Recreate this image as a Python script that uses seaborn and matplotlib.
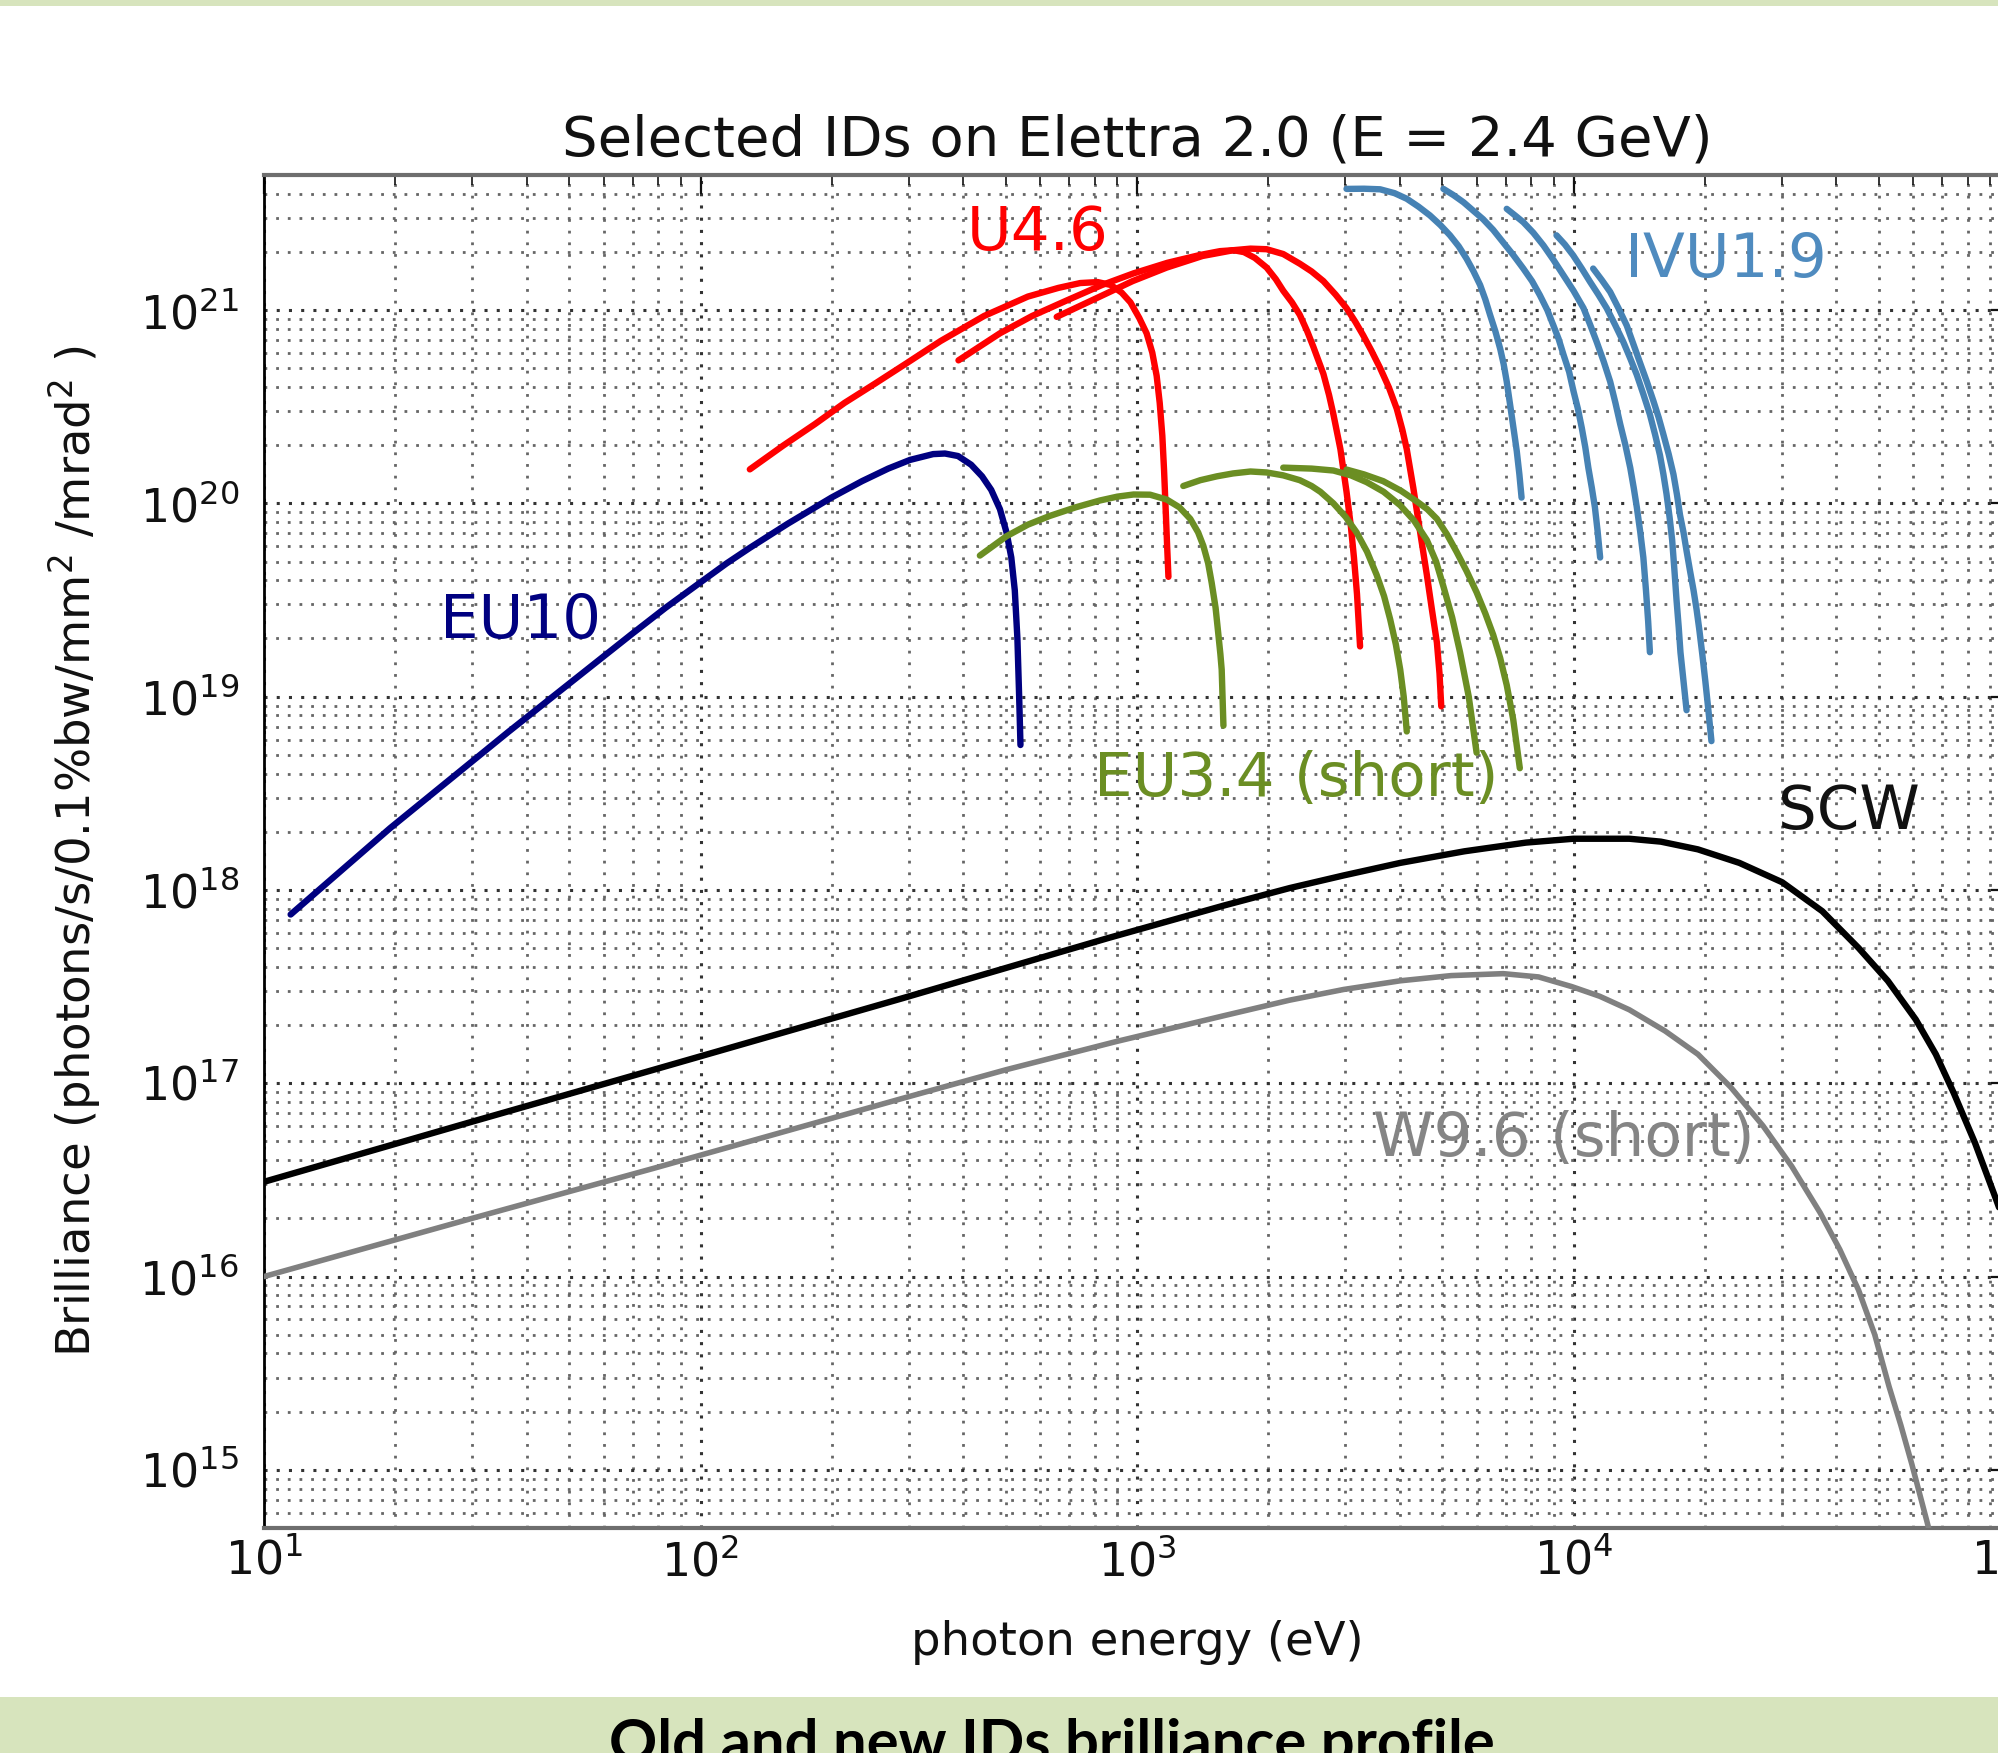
import numpy as np
import pandas as pd
import matplotlib
matplotlib.use("Agg")
import matplotlib.pyplot as plt
from matplotlib.patches import Rectangle
from matplotlib.ticker import LogLocator, NullFormatter
import seaborn as sns

# ------------- data, stored as log10 values -------------
# log10(photon energy / eV) and log10(brilliance)
eu10_logE = [1.061, 1.289, 1.561, 1.842, 1.92, 1.999, 2.06, 2.113, 2.20, 2.30, 2.37, 2.43, 2.48, 2.533, 2.56,
             2.59, 2.62, 2.645, 2.666, 2.686, 2.701, 2.712, 2.72, 2.726, 2.730, 2.733]
eu10_logB = [17.873, 18.32, 18.82, 19.323, 19.46, 19.59, 19.69, 19.77, 19.895, 20.03, 20.115, 20.18, 20.225,
             20.255, 20.258, 20.245, 20.20, 20.14, 20.07, 19.97, 19.85, 19.72, 19.55, 19.30, 19.0, 18.75]

u46_h1_logE = [2.113, 2.19, 2.262, 2.33, 2.40, 2.472, 2.55, 2.65, 2.75, 2.82, 2.87, 2.91, 2.94, 2.965, 2.985,
               3.005, 3.022, 3.035, 3.045, 3.052, 3.058, 3.062, 3.066, 3.069, 3.072]
u46_h1_logB = [20.176, 20.30, 20.41, 20.52, 20.62, 20.725, 20.84, 20.97, 21.07, 21.115, 21.14, 21.145, 21.13,
               21.09, 21.04, 20.96, 20.88, 20.78, 20.66, 20.52, 20.35, 20.17, 19.95, 19.78, 19.62]
u46_h3_logE = [2.591, 2.686, 2.76, 2.839, 2.92, 2.992, 3.07, 3.144, 3.19, 3.221, 3.245, 3.27, 3.297, 3.318,
               3.335, 3.355, 3.373, 3.39, 3.404, 3.427, 3.44, 3.45, 3.466, 3.48, 3.49, 3.497, 3.504, 3.511]
u46_h3_logB = [20.74, 20.88, 20.97, 21.05, 21.13, 21.19, 21.245, 21.285, 21.305, 21.31, 21.30, 21.27, 21.22,
               21.16, 21.10, 21.04, 20.975, 20.89, 20.81, 20.67, 20.56, 20.46, 20.28, 20.06, 19.88, 19.72,
               19.53, 19.26]
u46_h5_logE = [2.816, 2.915, 2.99, 3.068, 3.15, 3.221, 3.26, 3.297, 3.335, 3.373, 3.40, 3.427, 3.455, 3.48,
               3.50, 3.518, 3.537, 3.557, 3.577, 3.595, 3.608, 3.618, 3.633, 3.648, 3.664, 3.675, 3.687,
               3.693, 3.697]
u46_h5_logB = [20.965, 21.07, 21.15, 21.22, 21.28, 21.31, 21.318, 21.315, 21.29, 21.24, 21.20, 21.15, 21.08,
               21.01, 20.94, 20.87, 20.79, 20.70, 20.60, 20.49, 20.38, 20.28, 20.08, 19.86, 19.63, 19.46,
               19.28, 19.12, 18.95]

eu34_h1_logE = [2.640, 2.701, 2.75, 2.80, 2.86, 2.915, 2.955, 2.992, 3.03, 3.068, 3.097, 3.122, 3.14, 3.152,
                3.163, 3.171, 3.18, 3.186, 3.191, 3.194, 3.198]
eu34_h1_logB = [19.73, 19.83, 19.89, 19.935, 19.98, 20.015, 20.035, 20.046, 20.045, 20.02, 19.98, 19.92,
                19.85, 19.78, 19.69, 19.59, 19.46, 19.33, 19.22, 19.14, 18.85]
eu34_h3_logE = [3.106, 3.145, 3.183, 3.22, 3.26, 3.297, 3.335, 3.373, 3.40, 3.42, 3.45, 3.478, 3.503, 3.527,
                3.549, 3.566, 3.58, 3.593, 3.603, 3.611, 3.618]
eu34_h3_logB = [20.09, 20.12, 20.14, 20.155, 20.165, 20.16, 20.145, 20.12, 20.09, 20.06, 20.0, 19.93, 19.85,
                19.75, 19.63, 19.52, 19.40, 19.27, 19.14, 19.0, 18.82]
eu34_h5_logE = [3.335, 3.40, 3.45, 3.49, 3.526, 3.565, 3.603, 3.635, 3.664, 3.685, 3.702, 3.722, 3.74,
                3.76, 3.778]
eu34_h5_logB = [20.185, 20.18, 20.17, 20.145, 20.11, 20.06, 19.99, 19.91, 19.81, 19.70, 19.57, 19.41, 19.23,
                19.0, 18.71]
eu34_h7_logE = [3.48, 3.52, 3.564, 3.605, 3.641, 3.665, 3.687, 3.71, 3.732, 3.755, 3.778, 3.798, 3.816,
                3.832, 3.847, 3.862, 3.877]
eu34_h7_logB = [20.175, 20.15, 20.115, 20.065, 20.01, 19.97, 19.92, 19.84, 19.75, 19.65, 19.54, 19.43, 19.32,
                19.20, 19.06, 18.88, 18.63]

ivu_h1_logE = [3.48, 3.52, 3.557, 3.59, 3.618, 3.645, 3.671, 3.695, 3.717, 3.737, 3.755, 3.771, 3.786, 3.798,
               3.809, 3.821, 3.832, 3.840, 3.847, 3.858, 3.865, 3.870, 3.876, 3.881]
ivu_h1_logB = [21.627, 21.628, 21.625, 21.605, 21.576, 21.535, 21.49, 21.44, 21.387, 21.33, 21.266, 21.20,
               21.13, 21.055, 20.974, 20.89, 20.80, 20.72, 20.63, 20.46, 20.35, 20.27, 20.15, 20.03]
ivu_h3_logE = [3.702, 3.725, 3.748, 3.77, 3.793, 3.816, 3.839, 3.862, 3.885, 3.905, 3.923, 3.94, 3.954, 3.966,
               3.977, 3.99, 4.0, 4.01, 4.019, 4.027, 4.034, 4.042, 4.049, 4.055, 4.061]
ivu_h3_logB = [21.627, 21.595, 21.558, 21.515, 21.47, 21.415, 21.35, 21.285, 21.215, 21.15, 21.077, 21.0,
               20.92, 20.85, 20.77, 20.68, 20.58, 20.49, 20.39, 20.29, 20.184, 20.08, 19.98, 19.86, 19.72]
ivu_h5_logE = [3.847, 3.866, 3.885, 3.908, 3.931, 3.954, 3.977, 4.0, 4.023, 4.038, 4.053, 4.069, 4.084, 4.096,
               4.107, 4.119, 4.13, 4.138, 4.145, 4.153, 4.16, 4.166, 4.171, 4.175]
ivu_h5_logB = [21.524, 21.49, 21.455, 21.40, 21.335, 21.26, 21.18, 21.10, 21.01, 20.925, 20.836, 20.735,
               20.63, 20.52, 20.41, 20.30, 20.184, 20.08, 19.98, 19.85, 19.72, 19.55, 19.39, 19.23]
ivu_h7_logE = [3.961, 3.98, 3.999, 4.019, 4.038, 4.057, 4.076, 4.095, 4.114, 4.13, 4.145, 4.16, 4.175, 4.187,
               4.198, 4.206, 4.213, 4.22, 4.226, 4.231, 4.236, 4.241, 4.245, 4.252, 4.259]
ivu_h7_logB = [21.387, 21.34, 21.284, 21.215, 21.146, 21.08, 21.01, 20.925, 20.836, 20.75, 20.665, 20.565,
               20.46, 20.355, 20.25, 20.15, 20.05, 19.93, 19.81, 19.66, 19.5, 19.36, 19.23, 19.08, 18.93]
ivu_h9_logE = [4.045, 4.065, 4.084, 4.103, 4.122, 4.137, 4.152, 4.168, 4.183, 4.195, 4.206, 4.218, 4.229,
               4.237, 4.244, 4.252, 4.259, 4.267, 4.275, 4.282, 4.288, 4.295, 4.302, 4.309, 4.316]
ivu_h9_logB = [21.215, 21.155, 21.094, 21.01, 20.92, 20.825, 20.73, 20.63, 20.53, 20.445, 20.356, 20.255,
               20.15, 20.045, 19.94, 19.85, 19.754, 19.65, 19.55, 19.45, 19.35, 19.22, 19.08, 18.93, 18.77]

scw_logE = [1.0, 1.475, 1.893, 2.463, 2.932, 3.2, 3.35, 3.473, 3.603, 3.75, 3.891, 4.0, 4.128, 4.20, 4.285,
            4.38, 4.478, 4.57, 4.653, 4.72, 4.784, 4.83, 4.871, 4.92, 4.968, 5.0]
scw_logB = [16.49, 16.80, 17.07, 17.44, 17.75, 17.92, 18.01, 18.075, 18.14, 18.20, 18.245, 18.265, 18.265,
            18.25, 18.21, 18.14, 18.04, 17.89, 17.70, 17.53, 17.33, 17.15, 16.95, 16.69, 16.40, 16.20]

w96_logE = [1.0, 1.475, 1.893, 2.46, 2.7, 2.951, 3.2, 3.35, 3.473, 3.603, 3.72, 3.839, 3.92, 3.996, 4.06,
            4.128, 4.21, 4.285, 4.36, 4.434, 4.50, 4.565, 4.61, 4.653, 4.69, 4.723, 4.75, 4.775, 4.81, 4.82]
w96_logB = [16.0, 16.30, 16.56, 16.92, 17.07, 17.215, 17.35, 17.43, 17.485, 17.53, 17.557, 17.567, 17.55,
            17.50, 17.45, 17.38, 17.27, 17.15, 16.98, 16.78, 16.57, 16.33, 16.14, 15.93, 15.70, 15.43, 15.23,
            15.03, 14.73, 14.64]

series = [
    ("EU10", eu10_logE, eu10_logB, "#000080"),
    ("U4.6 h1", u46_h1_logE, u46_h1_logB, "#ff0000"),
    ("U4.6 h3", u46_h3_logE, u46_h3_logB, "#ff0000"),
    ("U4.6 h5", u46_h5_logE, u46_h5_logB, "#ff0000"),
    ("EU3.4 h1", eu34_h1_logE, eu34_h1_logB, "#6b8e23"),
    ("EU3.4 h3", eu34_h3_logE, eu34_h3_logB, "#6b8e23"),
    ("EU3.4 h5", eu34_h5_logE, eu34_h5_logB, "#6b8e23"),
    ("EU3.4 h7", eu34_h7_logE, eu34_h7_logB, "#6b8e23"),
    ("IVU1.9 h1", ivu_h1_logE, ivu_h1_logB, "#4682b4"),
    ("IVU1.9 h3", ivu_h3_logE, ivu_h3_logB, "#4682b4"),
    ("IVU1.9 h5", ivu_h5_logE, ivu_h5_logB, "#4682b4"),
    ("IVU1.9 h7", ivu_h7_logE, ivu_h7_logB, "#4682b4"),
    ("IVU1.9 h9", ivu_h9_logE, ivu_h9_logB, "#4682b4"),
    ("SCW", scw_logE, scw_logB, "#000000"),
    ("W9.6", w96_logE, w96_logB, "#808080"),
]

frames = []
for name, le, lb, c in series:
    frames.append(pd.DataFrame({"energy": np.power(10.0, le),
                                "brilliance": np.power(10.0, lb),
                                "curve": name}))
df = pd.concat(frames, ignore_index=True)

# ---------------- style ----------------
sns.set_style("white")
plt.rcParams["font.family"] = ["DejaVu Sans"]
plt.rcParams["mathtext.fontset"] = "dejavusans"
plt.rcParams["text.color"] = "#111111"
plt.rcParams["axes.labelcolor"] = "#111111"

fig = plt.figure(figsize=(19.99, 17.53), dpi=100)
fig.patch.set_facecolor("white")
ax = fig.add_axes([0.13207, 0.12835, 0.87344, 0.77182])

for name, le, lb, c in series:
    sub = df[df["curve"] == name]
    sns.lineplot(data=sub, x="energy", y="brilliance", color=c,
                 lw=4.6 if name != "W9.6" else 4.0,
                 sort=False, estimator=None, ax=ax, zorder=3, legend=False)

ax.set_xscale("log")
ax.set_yscale("log")
ax.set_xlim(10, 1e5)
ax.set_ylim(5e14, 5e21)

ax.xaxis.set_major_locator(LogLocator(base=10, numticks=20))
ax.yaxis.set_major_locator(LogLocator(base=10, numticks=20))
ax.xaxis.set_minor_locator(LogLocator(base=10, subs=np.arange(2, 10), numticks=200))
ax.yaxis.set_minor_locator(LogLocator(base=10, subs=np.arange(2, 10), numticks=200))
ax.xaxis.set_minor_formatter(NullFormatter())
ax.yaxis.set_minor_formatter(NullFormatter())

ax.grid(True, which="major", color="#333333", lw=2.2, ls=(0, (1, 3.0)), zorder=1)
ax.grid(True, which="minor", color="#666666", lw=2.0, ls=(0, (1, 3.2)), zorder=1)

ax.tick_params(which="both", direction="in", top=True, right=True, colors="#111111")
ax.tick_params(which="major", length=14, width=1.6)
ax.tick_params(which="minor", length=7, width=1.2)
ax.tick_params(axis="x", which="major", labelsize=33, pad=8)
ax.tick_params(axis="y", which="major", labelsize=33, pad=18)

ax.spines["left"].set_color("black")
ax.spines["left"].set_linewidth(2.0)
for s in ("top", "bottom"):
    ax.spines[s].set_color("#6e6e6e")
    ax.spines[s].set_linewidth(3.0)

ax.set_xlabel("photon energy (eV)", fontsize=33.5)
ax.set_ylabel("Brilliance (photons/s/0.1%bw/mm$^2$ /mrad$^2$ )", fontsize=33.5)
ax.xaxis.set_label_coords(0.5, -0.068)
ax.yaxis.set_label_coords(-0.092, 0.5)
ax.set_title("Selected IDs on Elettra 2.0 (E = 2.4 GeV)", fontsize=40.3, pad=14)

lab = dict(fontsize=44, ha="left", va="baseline", zorder=4)
ax.text(407, 2.04e21, "U4.6", color="#ff0000", **lab)
ax.text(13150, 1.49e21, "IVU1.9", color="#4f8bbf", **lab)
ax.text(25.3, 2.01e19, "EU10", color="#000080", **lab)
ax.text(798, 3.05e18, "EU3.4 (short)", color="#6b8e23", **lab)
ax.text(29440, 2.07e18, "SCW", color="#111111", **lab)
ax.text(3467, 4.19e16, "W9.6 (short)", color="#858585", **lab)

# page bands of the original slide
fig.add_artist(Rectangle((0, 1 - 6 / 1753), 1, 6 / 1753, transform=fig.transFigure,
                         facecolor="#d7e4bd", edgecolor="none", zorder=0))
fig.add_artist(Rectangle((0, 0), 1, 56 / 1753, transform=fig.transFigure,
                         facecolor="#d7e4bd", edgecolor="none", zorder=0))
fig.text(0.526, -0.005, "Old and new IDs brilliance profile", ha="center", va="baseline",
         fontsize=43, fontweight="bold", family=["Lato", "DejaVu Sans"], color="black")

fig.savefig("out.png", dpi=100)
